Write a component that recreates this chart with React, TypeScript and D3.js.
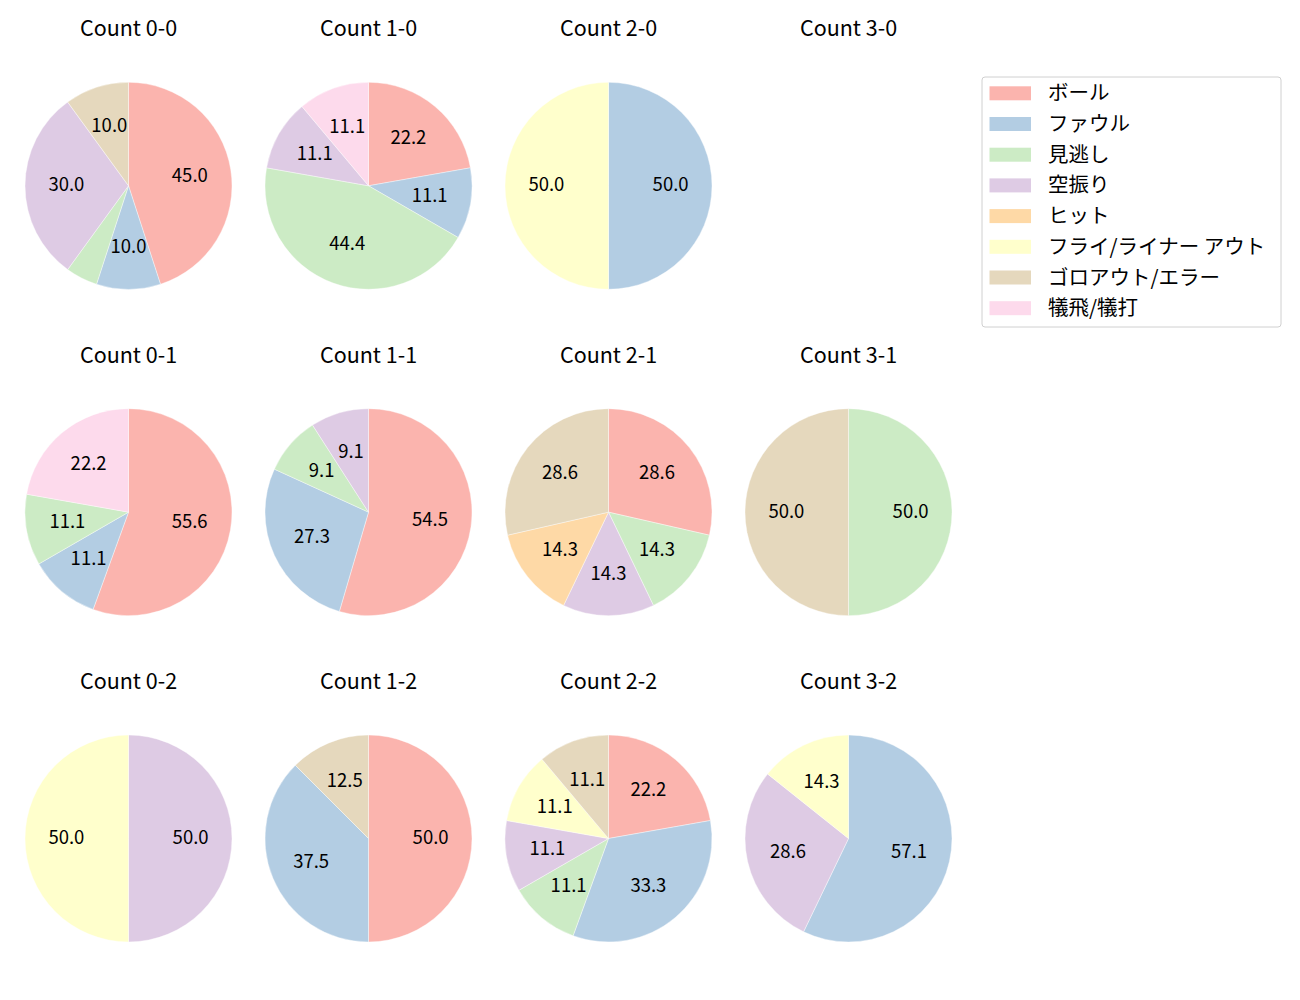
import React from "react";
import * as d3 from "d3";

// pitch outcome categories (legend order) and Pastel1 colours
const categories = ["ボール", "ファウル", "見逃し", "空振り", "ヒット", "フライ/ライナー アウト", "ゴロアウト/エラー", "犠飛/犠打"];
const colors = ["#fbb4ae", "#b3cde3", "#ccebc5", "#decbe4", "#fed9a6", "#ffffcc", "#e5d8bd", "#fddaec"];

// counts, row-major (balls-strikes)
const countLabels = ["0-0", "1-0", "2-0", "3-0", "0-1", "1-1", "2-1", "3-1", "0-2", "1-2", "2-2", "3-2"];

// number of pitches per category for each count
const ball    = [9, 2, 0, 0, 5, 6, 2, 0, 0, 4, 2, 0];
const foul    = [2, 1, 1, 0, 1, 3, 0, 0, 0, 3, 3, 4];
const looking = [1, 4, 0, 0, 1, 1, 1, 1, 0, 0, 1, 0];
const swing   = [6, 1, 0, 0, 0, 1, 1, 0, 1, 0, 1, 2];
const hit     = [0, 0, 0, 0, 0, 0, 1, 0, 0, 0, 0, 0];
const flyOut  = [0, 0, 1, 0, 0, 0, 0, 0, 1, 0, 1, 1];
const grounder = [2, 0, 0, 0, 0, 0, 2, 1, 0, 1, 1, 0];
const sac     = [0, 1, 0, 0, 2, 0, 0, 0, 0, 0, 0, 0];

const series = [ball, foul, looking, swing, hit, flyOut, grounder, sac];

const FONT = "'Noto Sans CJK JP', 'DejaVu Sans', sans-serif";
const R = 103.5;

export default function App() {
    const x = d3.scaleLinear().domain([0, 3]).range([128.5, 848.5]);
    const y = d3.scaleLinear().domain([0, 2]).range([185.8, 838.5]);

    const pie = d3.pie<number>().sort(null).value(d => d);
    const arc = d3.arc<d3.PieArcDatum<number>>().innerRadius(0).outerRadius(R);
    const labelArc = d3.arc<d3.PieArcDatum<number>>().innerRadius(R * 0.6).outerRadius(R * 0.6);

    return (
        <svg width={1300} height={1000} style={{ position: "absolute", left: 0, top: 0 }} fontFamily={FONT}>
            <rect width={1300} height={1000} fill="#ffffff" />
            {countLabels.map((lbl, i) => {
                const col = i % 4;
                const row = Math.floor(i / 4);
                const vals = series.map(s => s[i]);
                const total = d3.sum(vals);
                const arcs = total > 0 ? pie(vals) : [];
                return (
                    <g key={lbl} transform={`translate(${x(col)},${y(row)})`}>
                        <text y={-159} textAnchor="middle" dominantBaseline="central" fontSize={21.5} fill="#000">
                            {"Count " + lbl}
                        </text>
                        {arcs.map((a, j) => a.value > 0 ? (
                            <path key={j} d={arc(a) || ""} fill={colors[j]} stroke="#ffffff" strokeWidth={0.4} />
                        ) : null)}
                        {arcs.map((a, j) => {
                            const pct = (a.value / total) * 100;
                            if (pct < 6) return null;
                            const [cx, cy] = labelArc.centroid(a);
                            return (
                                <text key={"t" + j} x={cx} y={cy - 2.5} textAnchor="middle" dominantBaseline="central" fontSize={18.5} fill="#000">
                                    {pct.toFixed(1)}
                                </text>
                            );
                        })}
                    </g>
                );
            })}
            <g transform="translate(982,77)">
                <rect x={0} y={0} width={299} height={250} rx={3} fill="#fff" stroke="#d0d0d0" strokeWidth={1} />
                {categories.map((c, j) => (
                    <g key={c} transform={`translate(0,${16.3 + j * 30.7})`}>
                        <rect x={7.5} y={-7} width={41.5} height={14} fill={colors[j]} />
                        <text x={66} y={-2} dominantBaseline="central" fontSize={20.5} fill="#000">{c}</text>
                    </g>
                ))}
            </g>
        </svg>
    );
}
